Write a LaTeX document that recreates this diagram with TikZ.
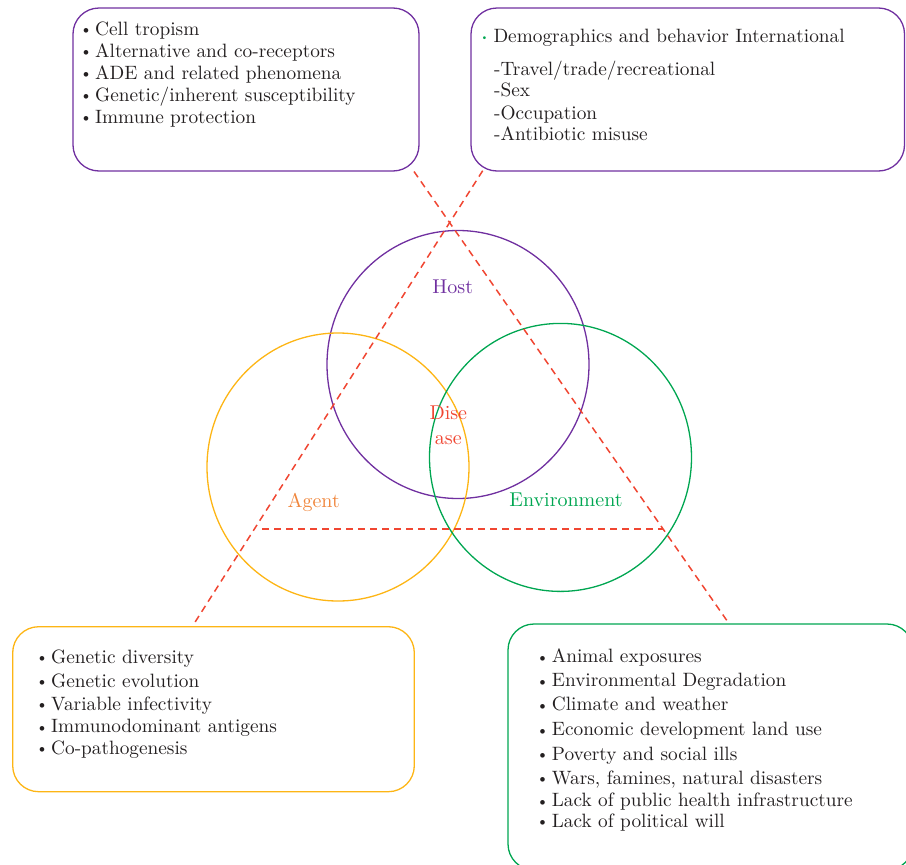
\documentclass[tikz,border=0pt]{standalone}
\usepackage{fontspec}
\setmainfont{lmroman10-regular.otf}
\usetikzlibrary{shapes.geometric}
\definecolor{hostc}{RGB}{112,48,160}
\definecolor{agentc}{RGB}{253,181,21}
\definecolor{agenttxt}{RGB}{240,134,60}
\definecolor{envc}{RGB}{0,166,81}
\definecolor{disc}{RGB}{240,70,50}
\definecolor{inkc}{RGB}{35,31,32}
\newcommand{\bul}{\raisebox{0.5pt}{\fontsize{16}{16}\selectfont\textbullet}\hspace{3pt}}
\newcommand{\gbul}{{\color{envc}\raisebox{1.5pt}{\fontsize{10}{10}\selectfont\textbullet}}\hspace{5pt}}

\begin{document}
\begin{tikzpicture}[x=1pt, y=-1pt,
    box/.style = {draw, rounded corners=26pt, line width=1.3pt},
    ring/.style = {draw, ellipse, line width=1.3pt, minimum width=262, minimum height=268},
    item/.style = {anchor=base west, inner sep=0pt, text=inkc, font=\fontsize{19.3}{22}\selectfont},
    lab/.style = {inner sep=0pt, font=\fontsize{20}{24.7}\selectfont},
    tri/.style = {draw=disc, line width=1.5pt, dash pattern=on 7pt off 5pt}]

    \useasboundingbox (0,0) rectangle (906,865);
    \clip (0,0) rectangle (906,865);

    % Boxes
    \node[box, draw=hostc, minimum width=346, minimum height=163] (hostbox) at (246,89.5) {};
    \node[box, draw=hostc, minimum width=433.5, minimum height=163] (demobox) at (687.75,89.5) {};
    \node[box, draw=agentc, minimum width=401.6, minimum height=165] (agentbox) at (213.5,709.2) {};
    \node[box, draw=envc, minimum width=405, minimum height=246] (envbox) at (710.5,747) {};

    % Circles
    \node[ring, draw=hostc] (host) at (458,364.5) {};
    \node[ring, draw=agentc] (agent) at (338,467) {};
    \node[ring, draw=envc] (env) at (560.5,457.4) {};

    % Labels
    \node[lab, anchor=base, text=hostc] (hostlab) at (452.7,293.3) {Host};
    \node[lab, anchor=base, text=agenttxt] (agentlab) at (313.7,507.3) {Agent};
    \node[lab, anchor=base, text=envc] (envlab) at (566,506) {Environment};
    \node[lab, align=center, text=disc] (dislab) at (448.3,425) {Dise\\ase};

    % Triangle
    \coordinate (a1) at (414,171.5);
    \coordinate (a2) at (727.7,621.7);
    \coordinate (b1) at (482.7,170.7);
    \coordinate (b2) at (194.3,623.3);
    \coordinate (c1) at (262,529);
    \coordinate (c2) at (663,529);
    \draw[tri] (a1) -- (a2);
    \draw[tri] (b1) -- (b2);
    \draw[tri] (c1) -- (c2);

    % Host factors
    \foreach \y/\t [count=\i] in {35/Cell tropism, 57.3/Alternative and co-receptors, 79.3/ADE and related phenomena,
        101/{Genetic/inherent susceptibility}, 123.3/Immune protection}{
        \node[item] (hf\i) at (95,\y) {\llap{\bul}\t};
    }

    % Demographics
    \node[item] (demo) at (493.3,42.3) {\llap{\gbul}Demographics and behavior International};
    \foreach \y/\t [count=\i] in {75/{-Travel/trade/recreational}, 96.7/-Sex, 119.3/-Occupation, 140/-Antibiotic misuse}{
        \node[item] (dm\i) at (494,\y) {\t};
    }

    % Agent factors
    \foreach \y/\t [count=\i] in {663.3/Genetic diversity, 687.3/Genetic evolution, 710/Variable infectivity,
        732.7/Immunodominant antigens, 754/Co-pathogenesis}{
        \node[item] (af\i) at (51,\y) {\llap{\bul}\t};
    }

    % Environment factors
    \foreach \y/\t [count=\i] in {662.7/Animal exposures, 686.7/Environmental Degradation, 710.7/Climate and weather,
        735.7/Economic development land use, 760/Poverty and social ills, 784.3/{Wars, famines, natural disasters},
        806.7/Lack of public health infrastructure, 827.3/Lack of political will}{
        \node[item] (ef\i) at (551.7,\y) {\llap{\bul}\t};
    }
\end{tikzpicture}
\end{document}
